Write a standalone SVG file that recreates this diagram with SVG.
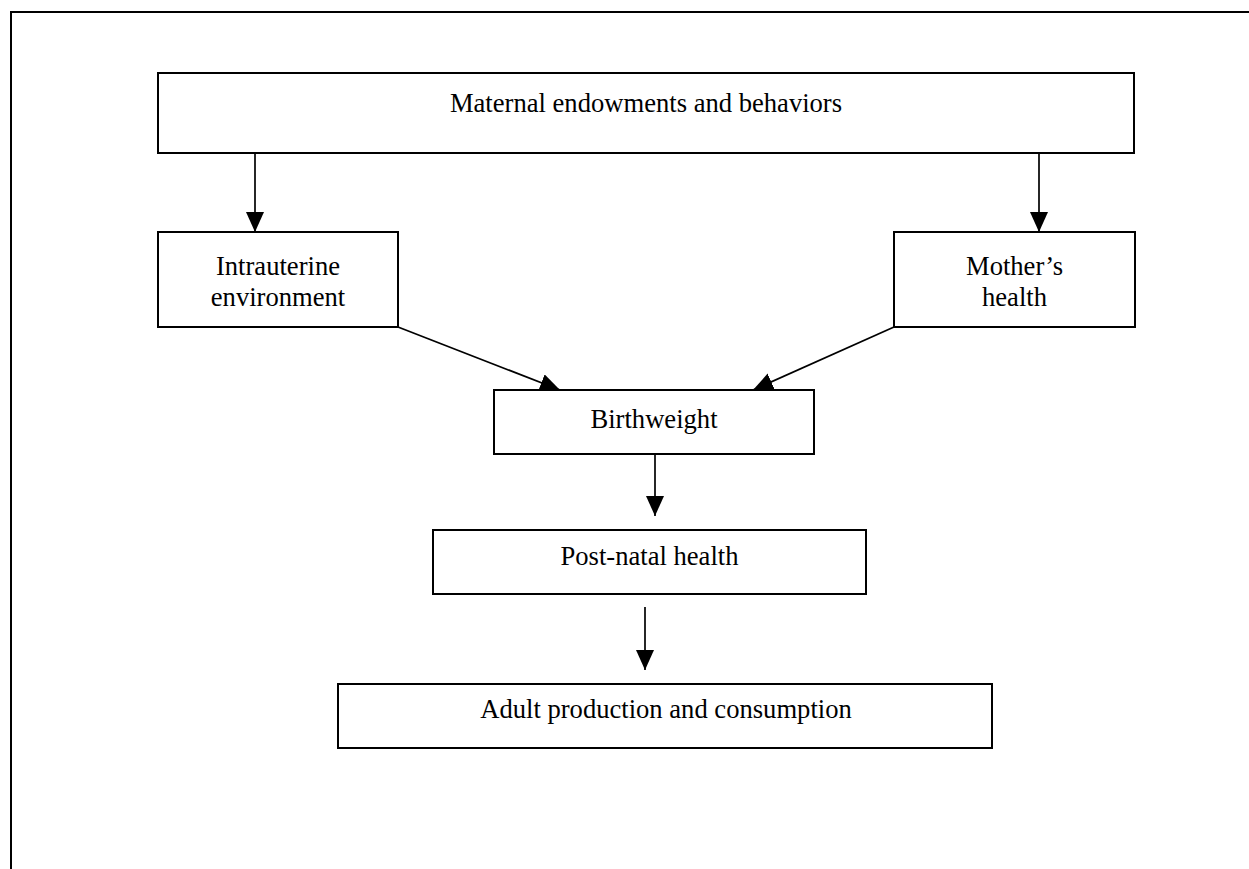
<svg xmlns="http://www.w3.org/2000/svg" width="1249" height="869" viewBox="0 0 1249 869">
<style>
.box{fill:#fff;stroke:#000;stroke-width:2}
.lbl{font-family:"Liberation Serif","Times New Roman",serif;font-size:26.6px;fill:#000;text-anchor:middle}
.conn{stroke:#000;stroke-width:1.7;fill:none}
</style>
<defs>
<marker id="ah" markerUnits="userSpaceOnUse" markerWidth="22" markerHeight="20" refX="20" refY="9" orient="auto">
<path d="M0,0 L20,9 L0,18 z" fill="#000"/>
</marker>
</defs>
<rect width="1249" height="869" fill="#fff"/>
<path d="M11,869 V12 H1249" fill="none" stroke="#000" stroke-width="2"/>
<g id="connectors">
<line class="conn" x1="255" y1="153" x2="255" y2="232" marker-end="url(#ah)"/>
<line class="conn" x1="1039" y1="153" x2="1039" y2="232" marker-end="url(#ah)"/>
<line class="conn" x1="398" y1="327" x2="560" y2="390" marker-end="url(#ah)"/>
<line class="conn" x1="894" y1="327" x2="753" y2="390" marker-end="url(#ah)"/>
<line class="conn" x1="655" y1="454" x2="655" y2="516" marker-end="url(#ah)"/>
<line class="conn" x1="645" y1="607" x2="645" y2="670" marker-end="url(#ah)"/>
</g>
<g id="maternal">
<rect class="box" x="158" y="73" width="976" height="80"/>
<text class="lbl" x="646" y="112">Maternal endowments and behaviors</text>
</g>
<g id="intrauterine">
<rect class="box" x="158" y="232" width="240" height="95"/>
<text class="lbl" x="278" y="275">Intrauterine</text>
<text class="lbl" x="278" y="306">environment</text>
</g>
<g id="mothers-health">
<rect class="box" x="894" y="232" width="241" height="95"/>
<text class="lbl" x="1014.5" y="275">Mother’s</text>
<text class="lbl" x="1014.5" y="306">health</text>
</g>
<g id="birthweight">
<rect class="box" x="494" y="390" width="320" height="64"/>
<text class="lbl" x="654" y="428">Birthweight</text>
</g>
<g id="post-natal">
<rect class="box" x="433" y="530" width="433" height="64"/>
<text class="lbl" x="649.5" y="565">Post-natal health</text>
</g>
<g id="adult">
<rect class="box" x="338" y="684" width="654" height="64"/>
<text class="lbl" x="666" y="718">Adult production and consumption</text>
</g>
</svg>
